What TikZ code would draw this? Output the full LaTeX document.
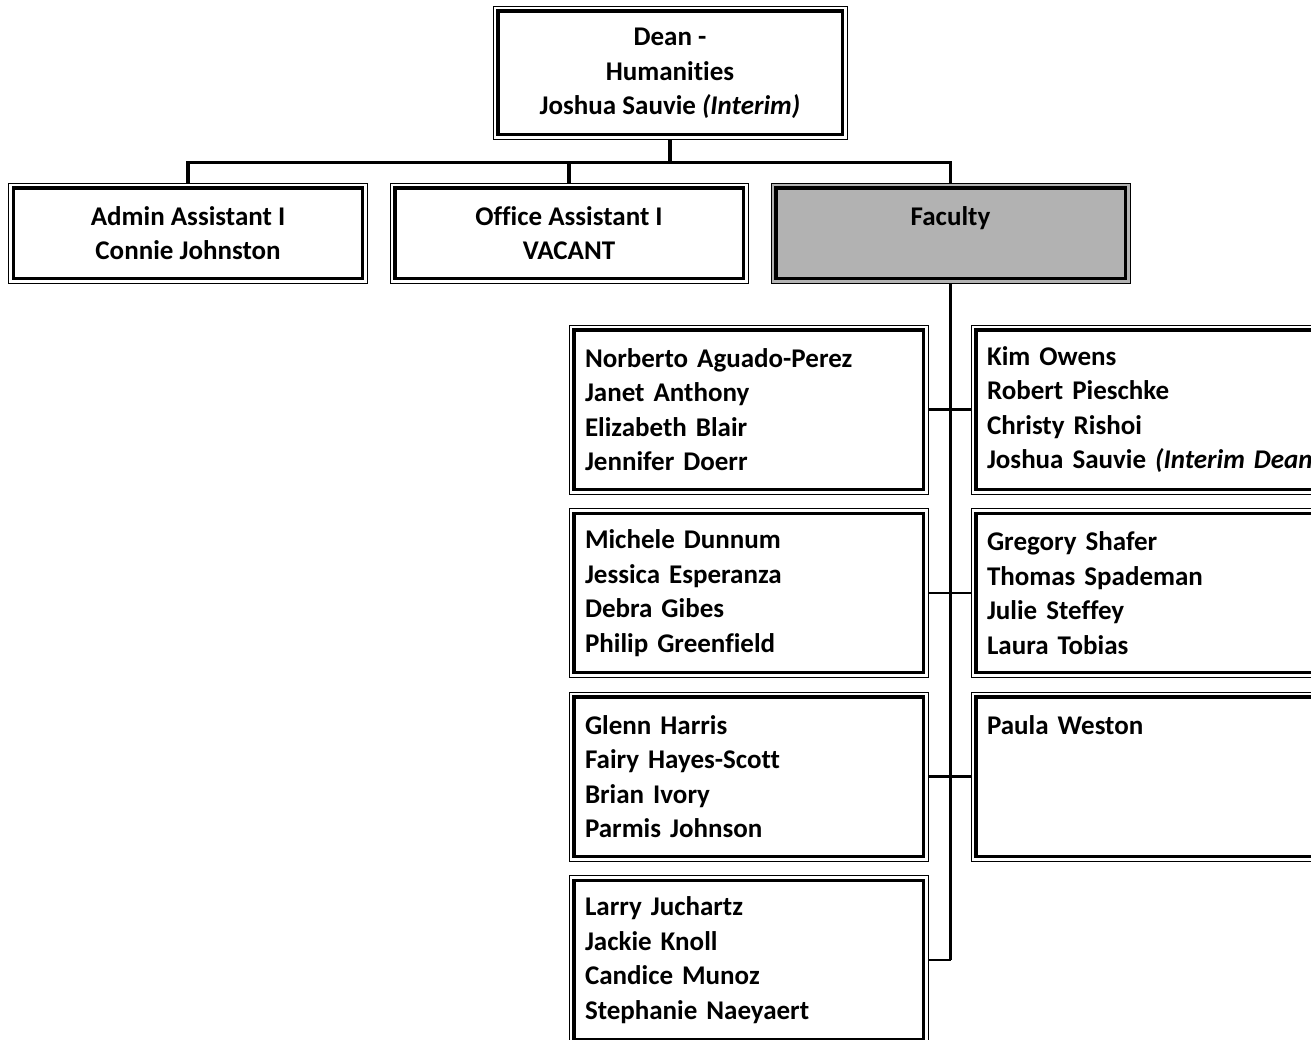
\documentclass[tikz,border=0pt]{standalone}
\usepackage{fontspec}
\setmainfont[Ligatures=NoCommon]{Carlito}
\usetikzlibrary{positioning}
\definecolor{facGray}{RGB}{178,178,178}
\tikzset{
  post/.style={draw, line width=1pt, fill=white, align=center, inner sep=0pt,
    font=\bfseries\fontsize{27}{34.5}\selectfont,
    path picture={\draw[line width=3.4pt]
      ([shift={(4.8pt,4.8pt)}]path picture bounding box.south west) rectangle
      ([shift={(-4.8pt,-4.8pt)}]path picture bounding box.north east);}},
  head/.style={post, minimum width=354pt, minimum height=133pt},
  staff/.style={post, minimum width=359pt, minimum height=100pt},
  group/.style={post, align=left, text width=327pt, inner xsep=16pt, minimum height=169pt},
  link/.style={line width=3.2pt},
  rowlink/.style={line width=2.6pt}
}

\begin{document}
\begin{tikzpicture}[x=1pt, y=-1pt, node distance=13.5pt and 42pt]
  \useasboundingbox (0,0) rectangle (1311,1039);

  % top of the chart
  \node[head, text depth=2pt] (dean) at (670,72.5) {Dean -\\Humanities\\Joshua Sauvie \textit{(Interim)}};
  \node[staff] (admin) at (188,233) {Admin Assistant I\\Connie Johnston};
  \node[staff, minimum width=358pt] (office) at (569,233) {Office Assistant I\\VACANT};
  \node[staff, fill=facGray] (faculty) at (950.5,233) {Faculty\\~};

  % faculty groups
  \node[group] (g1) at (748.5,409.5) {Norberto Aguado-Perez\\Janet Anthony\\Elizabeth Blair\\Jennifer Doerr};
  \node[group, below=of g1] (g2) {Michele Dunnum\\Jessica Esperanza\\Debra Gibes\\Philip Greenfield};
  \node[group, below=of g2] (g3) {Glenn Harris\\Fairy Hayes-Scott\\Brian Ivory\\Parmis Johnson};
  \node[group, below=of g3] (g4) {Larry Juchartz\\Jackie Knoll\\Candice Munoz\\Stephanie Naeyaert};
  \node[group, right=of g1] (k1) {Kim Owens\\Robert Pieschke\\Christy Rishoi\\\mbox{Joshua Sauvie \textit{(Interim Dean)}}};
  \node[group, right=of g2] (k2) {Gregory Shafer\\Thomas Spademan\\Julie Steffey\\Laura Tobias};
  \node[group, right=of g3] (k3) {Paula Weston\\~\\~\\~};

  % connectors
  \draw[link] (dean.south) -- ([yshift=-23pt]dean.south) coordinate (hub);
  \draw[link] (hub) -| (admin.north);
  \draw[link] (hub) -| (office.north);
  \draw[link] (hub) -| (faculty.north);
  \draw[link] (faculty.south) -- (faculty.south |- g4.east) coordinate (trunk);
  \draw[rowlink] (g1.east) -- (k1.west);
  \draw[rowlink] (g2.east) -- (k2.west);
  \draw[rowlink] (g3.east) -- (k3.west);
  \draw[rowlink] (g4.east) -- (trunk);
\end{tikzpicture}
\end{document}
